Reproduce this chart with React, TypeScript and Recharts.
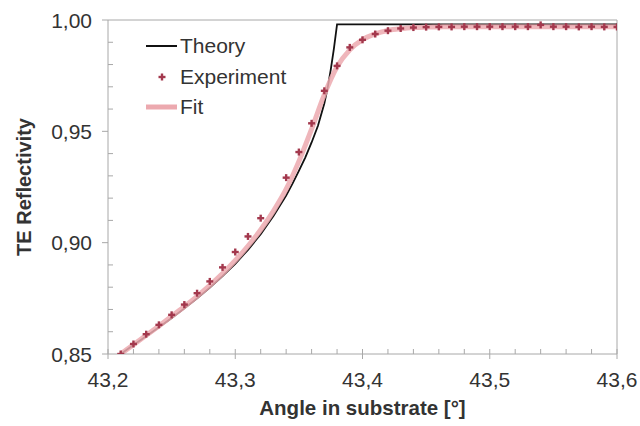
import React from 'react';
import { ComposedChart, Line, Scatter, XAxis, YAxis, ReferenceLine, Legend, Label } from 'recharts';

const FONT = '"Liberation Sans", Arial, sans-serif';
const AXIS_GREY = '#a8a8a8';
const TEXT_COLOR = '#333333';
const THEORY_COLOR = '#111111';
const FIT_COLOR = '#eca9af';
const EXP_COLOR = '#a3384d';

// measured reflectivity (no reading at 43,33)
const expAngle = [
  43.21, 43.22, 43.23, 43.24, 43.25, 43.26, 43.27, 43.28, 43.29, 43.3, 43.31, 43.32,
  43.34, 43.35, 43.36, 43.37, 43.38, 43.39, 43.4, 43.41, 43.42, 43.43, 43.44, 43.45,
  43.46, 43.47, 43.48, 43.49, 43.5, 43.51, 43.52, 43.53, 43.54, 43.55, 43.56, 43.57,
  43.58, 43.59, 43.6,
];
const expR = [
  0.85, 0.8545, 0.8589, 0.8631, 0.8676, 0.8722, 0.8773, 0.8826, 0.8889, 0.8958, 0.9028, 0.911,
  0.9292, 0.9407, 0.9536, 0.9682, 0.9794, 0.9877, 0.9911, 0.9937, 0.9952, 0.9962, 0.9966, 0.9968,
  0.9969, 0.9969, 0.997, 0.997, 0.997, 0.997, 0.997, 0.997, 0.9978, 0.997, 0.997, 0.9969,
  0.997, 0.9969, 0.9969,
];

// ideal TE curve
const theoryAngle = [
  43.21, 43.22, 43.23, 43.24, 43.25, 43.26, 43.27, 43.28, 43.29, 43.3, 43.31, 43.32, 43.33,
  43.34, 43.345, 43.35, 43.355, 43.36, 43.365, 43.37, 43.3725, 43.375, 43.3775, 43.38, 43.6,
];
const theoryR = [
  0.85, 0.854, 0.858, 0.862, 0.8662, 0.8705, 0.875, 0.8798, 0.885, 0.8905, 0.8968, 0.9038, 0.912,
  0.9212, 0.9265, 0.9322, 0.9382, 0.945, 0.9525, 0.9625, 0.9692, 0.9775, 0.987, 0.998, 0.998,
];

// fitted curve
const fitAngle = [
  43.21, 43.22, 43.23, 43.24, 43.25, 43.26, 43.27, 43.28, 43.29, 43.3, 43.31, 43.32, 43.33,
  43.34, 43.35, 43.36, 43.37, 43.38, 43.39, 43.4, 43.41, 43.42, 43.43, 43.44, 43.45, 43.46,
  43.47, 43.48, 43.49, 43.5, 43.51, 43.52, 43.53, 43.54, 43.55, 43.56, 43.57, 43.58, 43.59, 43.6,
];
const fitR = [
  0.85, 0.8542, 0.8584, 0.8626, 0.8669, 0.8713, 0.8759, 0.8808, 0.8861, 0.892, 0.8985, 0.9058, 0.9142,
  0.924, 0.9365, 0.951, 0.9665, 0.979, 0.9866, 0.9912, 0.9938, 0.9953, 0.9961, 0.9966, 0.9968, 0.9969,
  0.997, 0.997, 0.997, 0.997, 0.997, 0.997, 0.997, 0.997, 0.997, 0.997, 0.997, 0.997, 0.997, 0.997,
];

const xTicks = [
  43.2, 43.22, 43.24, 43.26, 43.28, 43.3, 43.32, 43.34, 43.36, 43.38, 43.4,
  43.42, 43.44, 43.46, 43.48, 43.5, 43.52, 43.54, 43.56, 43.58, 43.6,
];
const yTicks = [
  0.85, 0.86, 0.87, 0.88, 0.89, 0.9, 0.91, 0.92, 0.93, 0.94, 0.95, 0.96, 0.97, 0.98, 0.99, 1.0,
];

const legendItems = [
  { name: 'Theory', kind: 'line', color: THEORY_COLOR, width: 2 },
  { name: 'Experiment', kind: 'plus', color: EXP_COLOR, width: 2.5 },
  { name: 'Fit', kind: 'line', color: FIT_COLOR, width: 5 },
];

const zip = (xs: number[], ys: number[]) => xs.map((a, i) => ({ a, r: ys[i] }));
const expData = zip(expAngle, expR);
const theoryData = zip(theoryAngle, theoryR);
const fitData = zip(fitAngle, fitR);

const comma = (v: number, digits: number) => v.toFixed(digits).replace('.', ',');
const isMultiple = (v: number, step: number) => Math.abs(v / step - Math.round(v / step)) < 1e-6;

const PlusMark = ({ cx, cy }: any) => {
  if (cx == null || cy == null) return null;
  const h = 3.5;
  return (
    <g stroke={EXP_COLOR} strokeWidth={2.4}>
      <line x1={cx - h} x2={cx + h} y1={cy} y2={cy} />
      <line x1={cx} x2={cx} y1={cy - h} y2={cy + h} />
    </g>
  );
};

const YTick = ({ x, y, payload }: any) => {
  const v = payload.value as number;
  const major = isMultiple(v, 0.05);
  return (
    <g>
      <line x1={major ? x - 6 : x} x2={major ? x : x + 5} y1={y} y2={y} stroke={AXIS_GREY} />
      {major && (
        <text x={x - 16} y={y} dy="0.36em" textAnchor="end" fontFamily={FONT} fontSize={21} fill={TEXT_COLOR}>
          {comma(v, 2)}
        </text>
      )}
    </g>
  );
};

const XTick = ({ x, y, payload }: any) => {
  const v = payload.value as number;
  const major = isMultiple(v, 0.1);
  return (
    <g>
      <line x1={x} x2={x} y1={y - 5} y2={major ? y + 5 : y} stroke={AXIS_GREY} />
      {major && (
        <text x={x} y={y + 25} dy="0.36em" textAnchor="middle" fontFamily={FONT} fontSize={21} fill={TEXT_COLOR}>
          {comma(v, 1)}
        </text>
      )}
    </g>
  );
};

const LegendBox = () => (
  <div style={{ fontFamily: FONT, fontSize: 21, color: TEXT_COLOR }}>
    {legendItems.map((it) => (
      <div key={it.name} style={{ display: 'flex', alignItems: 'center', height: 30.5 }}>
        <svg width={34} height={20}>
          {it.kind === 'line' ? (
            <line x1={1} x2={32} y1={10} y2={10} stroke={it.color} strokeWidth={it.width} />
          ) : (
            <PlusMark cx={17} cy={10} />
          )}
        </svg>
        <span style={{ marginLeft: 1 }}>{it.name}</span>
      </div>
    ))}
  </div>
);

export default function App() {
  return (
    <div style={{ position: 'absolute', left: 0, top: 0, width: 640, height: 426, background: '#fff' }}>
      <ComposedChart width={640} height={426} margin={{ top: 20, right: 23, left: 0, bottom: 0 }}>
        <XAxis
          type="number"
          dataKey="a"
          domain={[43.2, 43.6]}
          ticks={xTicks}
          interval={0}
          allowDataOverflow
          height={72}
          tickSize={0}
          tickMargin={0}
          tickLine={false}
          axisLine={{ stroke: AXIS_GREY }}
          tick={<XTick />}
        >
          <Label
            content={({ viewBox }: any) => (
              <text
                x={viewBox.x + viewBox.width / 2}
                y={viewBox.y + 54}
                dy="0.36em"
                textAnchor="middle"
                fontFamily={FONT}
                fontWeight="bold"
                fontSize={20.5}
                fill={TEXT_COLOR}
              >
                Angle in substrate [°]
              </text>
            )}
          />
        </XAxis>
        <YAxis
          type="number"
          domain={[0.85, 1.0]}
          ticks={yTicks}
          interval={0}
          allowDataOverflow
          width={108}
          tickSize={0}
          tickMargin={0}
          tickLine={false}
          axisLine={{ stroke: AXIS_GREY }}
          tick={<YTick />}
        >
          <Label
            content={({ viewBox }: any) => {
              const cx = viewBox.x + 24;
              const cy = viewBox.y + viewBox.height / 2;
              return (
                <text
                  x={cx}
                  y={cy}
                  dy="0.36em"
                  transform={`rotate(-90 ${cx} ${cy})`}
                  textAnchor="middle"
                  fontFamily={FONT}
                  fontWeight="bold"
                  fontSize={20}
                  fill={TEXT_COLOR}
                >
                  TE Reflectivity
                </text>
              );
            }}
          />
        </YAxis>
        <ReferenceLine y={1.0} stroke={AXIS_GREY} />
        <ReferenceLine x={43.6} stroke={AXIS_GREY} />
        <Line
          data={theoryData}
          dataKey="r"
          type="linear"
          stroke={THEORY_COLOR}
          strokeWidth={1.8}
          dot={false}
          isAnimationActive={false}
        />
        <Line
          data={fitData}
          dataKey="r"
          type="monotone"
          stroke={FIT_COLOR}
          strokeWidth={5}
          strokeOpacity={0.85}
          dot={false}
          isAnimationActive={false}
        />
        <Scatter data={expData} dataKey="r" shape={(p: any) => <PlusMark {...p} />} isAnimationActive={false} />
        <Legend
          content={() => <LegendBox />}
          layout="vertical"
          align="center"
          verticalAlign="middle"
          wrapperStyle={{ left: 145, top: 31, width: 200 }}
        />
      </ComposedChart>
    </div>
  );
}
